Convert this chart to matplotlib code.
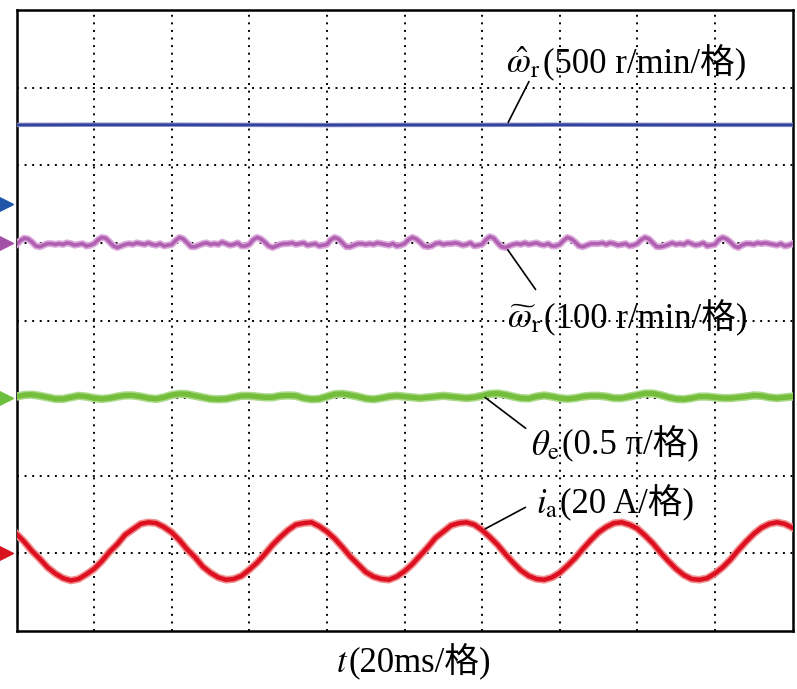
import numpy as np
import matplotlib.pyplot as plt

plt.rcParams['mathtext.fontset'] = 'stix'
TXT_FONT = ['Liberation Serif', 'Noto Sans CJK SC']
FS = 25

# Zeitachse in Teilungen (20 ms/格)
t_blue = np.arange(0, 10.01, 1.0)
t_fine = np.arange(0, 10.001, 0.05)
t_coarse = np.arange(0, 10.001, 0.1)

# Drehzahl-Schaetzwert (blau), fast konstant
w_hat = [6.52, 6.522, 6.522, 6.52, 6.518, 6.52, 6.52, 6.522, 6.521, 6.52, 6.52]

# Drehzahlfehler (lila), eine Welligkeit pro Teilung
w_tilde = [
    4.98, 5.03, 5.06, 5.05, 5.01, 4.96, 4.95, 4.97, 4.99, 4.99, 4.98, 4.99, 4.98, 5.00, 4.99, 4.97, 4.98, 4.99, 4.96, 4.97,
    4.99, 5.04, 5.07, 5.06, 5.01, 4.96, 4.94, 4.96, 4.98, 4.99, 4.98, 5.00, 4.99, 4.98, 5.00, 4.98, 4.97, 4.99, 4.96, 4.97,
    4.98, 5.03, 5.07, 5.05, 5.00, 4.95, 4.95, 4.97, 4.99, 5.00, 4.98, 4.99, 4.98, 5.01, 4.99, 4.97, 4.98, 5.00, 4.96, 4.96,
    4.98, 5.04, 5.07, 5.05, 5.01, 4.96, 4.94, 4.96, 4.98, 4.99, 4.99, 5.00, 4.98, 4.99, 5.00, 4.97, 4.98, 4.99, 4.96, 4.97,
    4.98, 5.04, 5.07, 5.05, 5.00, 4.95, 4.95, 4.97, 4.99, 4.99, 4.98, 4.99, 4.98, 5.00, 4.99, 4.98, 4.97, 4.99, 4.96, 4.97,
    4.99, 5.04, 5.07, 5.05, 5.01, 4.96, 4.95, 4.96, 4.99, 5.00, 4.98, 4.99, 4.99, 5.00, 4.99, 4.97, 4.98, 5.00, 4.96, 4.97,
    4.98, 5.04, 5.08, 5.06, 5.00, 4.95, 4.94, 4.96, 4.98, 4.99, 4.98, 5.00, 4.98, 4.99, 5.00, 4.98, 4.97, 4.99, 4.96, 4.96,
    4.98, 5.03, 5.07, 5.05, 5.01, 4.96, 4.95, 4.97, 4.99, 4.99, 4.99, 5.00, 4.98, 5.00, 4.99, 4.97, 4.98, 4.99, 4.96, 4.97,
    4.99, 5.04, 5.07, 5.05, 5.00, 4.95, 4.95, 4.96, 4.98, 5.00, 4.98, 4.99, 4.98, 5.01, 4.99, 4.97, 4.98, 5.00, 4.96, 4.97,
    4.98, 5.04, 5.07, 5.05, 5.01, 4.96, 4.94, 4.97, 4.99, 4.99, 4.98, 5.00, 4.99, 5.00, 4.99, 4.98, 4.97, 4.99, 4.96, 4.97,
    4.99]

# Rotorlagewinkel (gruen)
theta_e = [
    3.02, 3.04, 3.045, 3.03, 3.01, 2.99, 2.99, 3.01, 3.03, 3.02,
    3.00, 2.99, 3.00, 3.02, 3.035, 3.035, 3.02, 3.00, 2.99, 3.01,
    3.04, 3.055, 3.05, 3.03, 3.01, 2.99, 2.985, 2.99, 3.01, 3.03,
    3.03, 3.02, 3.01, 3.01, 3.03, 3.035, 3.03, 3.00, 2.985, 2.99,
    3.02, 3.05, 3.055, 3.04, 3.02, 2.995, 2.985, 3.00, 3.02, 3.03,
    3.02, 3.01, 3.00, 3.01, 3.02, 3.03, 3.02, 3.01, 3.00, 3.01,
    3.03, 3.055, 3.06, 3.045, 3.02, 3.00, 2.995, 3.02, 3.035, 3.02,
    3.00, 2.99, 3.00, 3.02, 3.03, 3.03, 3.02, 3.00, 3.00, 3.02,
    3.04, 3.06, 3.06, 3.04, 3.01, 2.99, 2.985, 3.00, 3.02, 3.02,
    3.01, 3.00, 3.00, 3.01, 3.02, 3.035, 3.03, 3.01, 3.00, 3.01,
    3.02]

# Phasenstrom (rot)
i_a = [
    1.25, 1.15, 1.03, 0.93, 0.82, 0.74, 0.68, 0.65, 0.67, 0.73,
    0.80, 0.90, 1.02, 1.12, 1.24, 1.31, 1.38, 1.40, 1.39, 1.34,
    1.27, 1.17, 1.05, 0.95, 0.83, 0.75, 0.69, 0.66, 0.67, 0.71,
    0.79, 0.88, 0.99, 1.11, 1.21, 1.30, 1.37, 1.39, 1.40, 1.35,
    1.28, 1.19, 1.08, 0.96, 0.86, 0.76, 0.70, 0.67, 0.66, 0.70,
    0.77, 0.86, 0.97, 1.08, 1.20, 1.28, 1.36, 1.39, 1.40, 1.37,
    1.30, 1.21, 1.11, 0.99, 0.88, 0.78, 0.71, 0.67, 0.66, 0.69,
    0.75, 0.84, 0.94, 1.06, 1.17, 1.27, 1.34, 1.39, 1.40, 1.37,
    1.32, 1.23, 1.13, 1.01, 0.90, 0.80, 0.72, 0.67, 0.66, 0.68,
    0.74, 0.82, 0.92, 1.04, 1.15, 1.25, 1.33, 1.38, 1.40, 1.38,
    1.33]

# Kanalmarken am linken Rand
marker_levels = [5.5, 5.0, 3.0, 1.0]
marker_colors = ['#1f56a8', '#a452a8', '#6cbf3c', '#d8141e']

fig = plt.figure(figsize=(7.97, 6.89), dpi=100)
ax = fig.add_axes([16.5 / 797, 58 / 689, 776 / 797, 621 / 689])
ax.set_xlim(0, 10)
ax.set_ylim(0, 8)
ax.set_xticks([])
ax.set_yticks([])
for s in ax.spines.values():
    s.set_linewidth(1.8)

for k in range(1, 10):
    ax.axvline(k, color='black', lw=1.4, ls=(0, (1, 2.9)), zorder=1)
for k in range(1, 8):
    ax.axhline(k, color='black', lw=1.4, ls=(0, (1, 2.9)), zorder=1)

ax.plot(t_blue, w_hat, color='#8890c8', lw=3.2, zorder=3)
ax.plot(t_blue, w_hat, color='#34449c', lw=1.8, zorder=3)
ax.plot(t_fine, w_tilde, color='#dcaadc', lw=5.0, zorder=3, solid_joinstyle='round')
ax.plot(t_fine, w_tilde, color='#b060b0', lw=2.6, zorder=3, solid_joinstyle='round')
ax.plot(t_coarse, theta_e, color='#acda8c', lw=6.0, zorder=3)
ax.plot(t_coarse, theta_e, color='#74be3c', lw=3.8, zorder=3)
ax.plot(t_coarse, i_a, color='#f09090', lw=5.5, zorder=3)
ax.plot(t_coarse, i_a, color='#dc1020', lw=3.2, zorder=3)

for lev, c in zip(marker_levels, marker_colors):
    ax.plot(-0.135, lev, marker='>', ms=10, color=c, clip_on=False, zorder=4)

# Beschriftungen mit Hinweislinien
def label(sym, rest, xs, yb):
    ax.text(xs, yb, sym, fontsize=FS, ha='right', va='baseline', zorder=5)
    ax.text(xs + 0.03, yb, rest, fontsize=FS, ha='left', va='baseline',
            family=TXT_FONT, zorder=5)

ax.annotate('', xy=(6.32, w_hat[6]), xytext=(6.62, 7.11),
            arrowprops=dict(arrowstyle='-', color='black', lw=1.2))
label(r'$\hat{\omega}_{\mathrm{r}}$', '(500 r/min/格)', 6.75, 7.19)

ax.annotate('', xy=(6.31, w_tilde[126]), xytext=(6.71, 4.37),
            arrowprops=dict(arrowstyle='-', color='black', lw=1.2))
label(r'$\widetilde{\omega}_{\mathrm{r}}$', '(100 r/min/格)', 6.77, 3.90)

ax.annotate('', xy=(6.01, theta_e[60]), xytext=(6.59, 2.59),
            arrowprops=dict(arrowstyle='-', color='black', lw=1.2))
label(r'$\theta_{\mathrm{e}}$', '(0.5 π/格)', 7.00, 2.27)

ax.annotate('', xy=(6.01, i_a[60]), xytext=(6.59, 1.61),
            arrowprops=dict(arrowstyle='-', color='black', lw=1.2))
label(r'$i_{\mathrm{a}}$', '(20 A/格)', 6.98, 1.52)

ax.text(4.27, -0.53, r'$t$', fontsize=FS, ha='right', va='baseline', clip_on=False)
ax.text(4.28, -0.53, '(20ms/格)', fontsize=FS, ha='left', va='baseline',
        family=TXT_FONT, clip_on=False)

fig.savefig('out.png', dpi=100)
